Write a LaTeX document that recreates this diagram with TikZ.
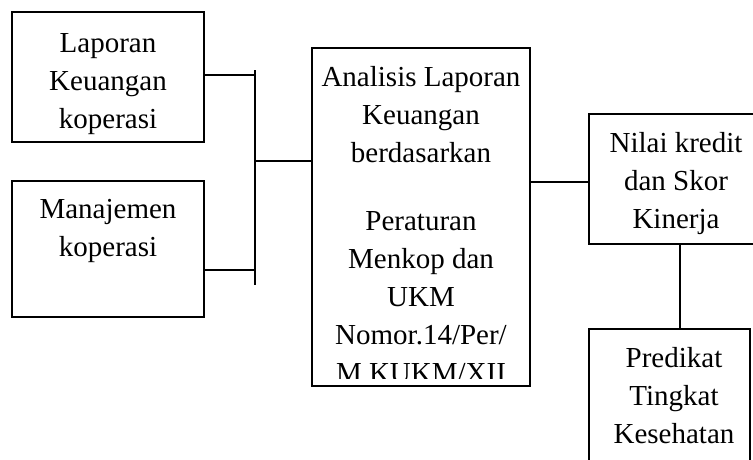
\documentclass[tikz,border=0pt]{standalone}
\usepackage{fontspec}
\setmainfont{Liberation Serif}
\begin{document}
\begin{tikzpicture}[x=1pt,y=-1pt,
  box/.style={draw=black, line width=1.5pt, inner sep=0pt, outer sep=0pt, anchor=north west},
  txt/.style={anchor=north, align=center, inner sep=0pt, font=\fontsize{29}{38}\selectfont},
  conn/.style={draw=black, line width=1.5pt}]
\useasboundingbox (0,0) rectangle (753,459);
\clip (0,0) rectangle (753,459);
% boxes
\node[box, minimum width=192pt, minimum height=130pt] (lap) at (12,12) {};
\node[box, minimum width=192pt, minimum height=136pt] (man) at (12,181) {};
\node[box, minimum width=218pt, minimum height=338pt] (mid) at (312,48) {};
\node[box, minimum width=174pt, minimum height=130pt] (nil) at (589,114) {};
\node[box, minimum width=161pt, minimum height=160pt] (pred) at (589,329) {};
% texts
\node[txt] (laptxt) at (108,25.4) {\strut Laporan\\Keuangan\\koperasi};
\node[txt] (mantxt) at (108,191.4) {\strut Manajemen\\koperasi};
\begin{scope}
\clip (312,48) rectangle (530,378);
\node[txt] (midtxt) at (421,59.4) {\strut Analisis Laporan\\Keuangan\\berdasarkan\\[30pt]Peraturan\\Menkop dan\\UKM\\Nomor.14/Per/\\M.KUKM/XII};
\end{scope}
\node[txt] (niltxt) at (676,125.4) {\strut Nilai kredit\\dan Skor\\Kinerja};
\node[txt] (predtxt) at (674,340.4) {\strut Predikat\\Tingkat\\Kesehatan};
% connector end points
\coordinate (bt) at (255,70);
\coordinate (bb) at (255,285);
\coordinate (bj) at (255,161);
\coordinate (lapc) at ([yshift=2pt]lap.east);
\coordinate (manc) at ([yshift=-21pt]man.east);
\coordinate (nilc) at ([yshift=-3pt]nil.west);
\coordinate (nils) at ([xshift=4pt]nil.south);
% connectors
\draw[conn] (bt) -- (bb);
\draw[conn] (lapc) -- (bt |- lapc);
\draw[conn] (manc) -- (bt |- manc);
\draw[conn] (bj) -- (mid.west |- bj);
\draw[conn] (mid.east |- nilc) -- (nilc);
\draw[conn] (nils) -- (nils |- pred.north);
\end{tikzpicture}
\end{document}
